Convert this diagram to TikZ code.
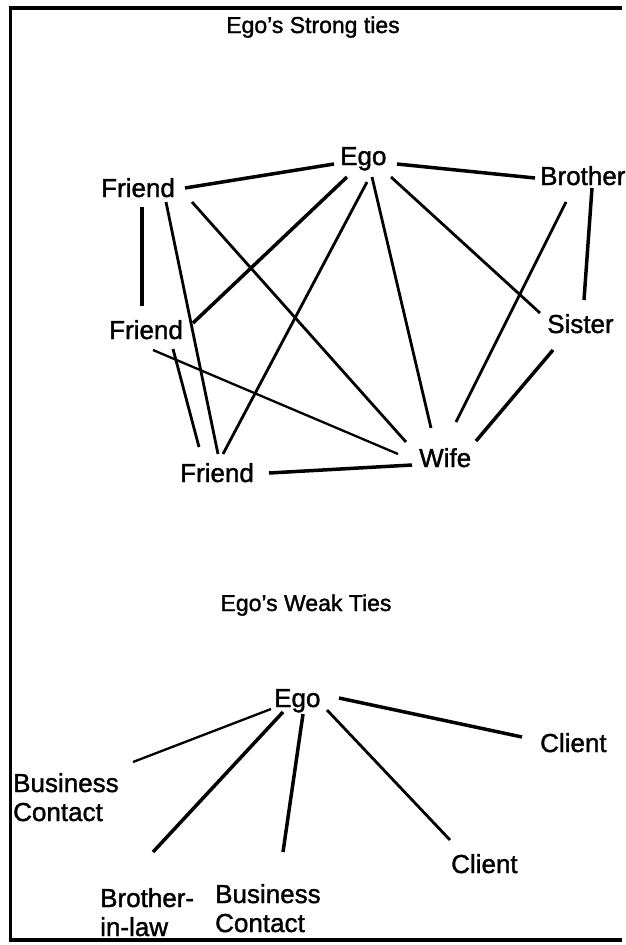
\documentclass[tikz,border=0pt]{standalone}
\usepackage{fontspec}
\setmainfont{Liberation Sans}
\newfontfamily\tiefont{Liberation Sans}[FakeBold=1.4]
\usetikzlibrary{calc}
\begin{document}
\begin{tikzpicture}[x=1pt,y=-1pt,
  who/.style={font=\tiefont\fontsize{26}{29}\selectfont, inner sep=0pt, anchor=base west},
  heading/.style={font=\tiefont\fontsize{23}{27}\selectfont, inner sep=0pt, anchor=base},
  tie/.style={line width=2.8pt},
  tiethick/.style={line width=3.5pt},
  tiethin/.style={line width=2.3pt},
  frame/.style={line width=3.5pt}]
\useasboundingbox (0,0) rectangle (625,945);
\fill[white] (0,0) rectangle (625,945);

% open frame: left, top and bottom sides, running out at the right edge
\draw[frame] (622,8) -- (10.5,8) -- (10.5,940) -- (622,940);

% ---------------- strong ties ----------------
\node[heading] (strongtitle) at (313,33) {Ego’s Strong ties};

\node[who] (ego) at (340,165) {Ego};
\node[who] (f1)  at (101,197) {Friend};
\node[who] (br)  at (540,185) {Brother};
\node[who] (f2)  at (109,339) {Friend};
\node[who] (si)  at (547,333) {Sister};
\node[who] (f3)  at (180,482) {Friend};
\node[who] (wi)  at (419,467) {Wife};

\draw[tiethick] ($(f1.base west)+(84,-9)$) -- ($(ego.base west)+(-6,-1)$);
\draw[tiethick] ($(ego.base west)+(57,-1)$) -- ($(br.base west)+(-5,-7)$);
\draw[tiethick] ($(f1.base west)+(41,10)$) -- ($(f2.base west)+(33,-33)$);
\draw[tie] ($(f1.base west)+(65,5)$) -- ($(f3.base west)+(38,-28)$);
\draw[tie] ($(f1.base west)+(91,5)$) -- ($(wi.base west)+(-13,-25)$);
\draw[tiethick] ($(ego.base west)+(7,12)$) -- ($(f2.base west)+(84,-16)$);
\draw[tie] ($(ego.base west)+(27,17)$) -- ($(f3.base west)+(43,-28)$);
\draw[tie] ($(ego.base west)+(32,12)$) -- ($(wi.base west)+(12,-39)$);
\draw[tie] ($(ego.base west)+(51,12)$) -- ($(si.base west)+(-7,-20)$);
\draw[tiethick] ($(br.base west)+(52,3)$) -- ($(si.base west)+(37,-33)$);
\draw[tie] ($(br.base west)+(26,17)$) -- ($(wi.base west)+(37,-45)$);
\draw[tiethick] ($(si.base west)+(6,17)$) -- ($(wi.base west)+(57,-26)$);
\draw[tiethin] ($(f2.base west)+(44,11)$) -- ($(wi.base west)+(-21,-13)$);
\draw[tie] ($(f2.base west)+(64,10)$) -- ($(f3.base west)+(19,-35)$);
\draw[tiethick] ($(f3.base west)+(89,-9)$) -- ($(wi.base west)+(-7,-2)$);

% ---------------- weak ties ----------------
\node[heading] (weaktitle) at (306,611) {Ego’s Weak Ties};

\node[who] (wego) at (274,707) {Ego};
\node[who] (bc1)  at (13,792)  {\begin{tabular}[t]{@{}l@{}}Business\\Contact\end{tabular}};
\node[who] (bil)  at (100,907) {\begin{tabular}[t]{@{}l@{}}Brother-\\in-law\end{tabular}};
\node[who] (bc2)  at (215,903) {\begin{tabular}[t]{@{}l@{}}Business\\Contact\end{tabular}};
\node[who] (cl1)  at (540,752) {Client};
\node[who] (cl2)  at (451,873) {Client};

\draw[tiethin]  ($(wego.base west)+(-3,2)$) -- ($(bc1.base west)+(120,-30)$);
\draw[tiethick] ($(wego.base west)+(9,5)$)  -- ($(bil.base west)+(53,-55)$);
\draw[tiethick] ($(wego.base west)+(29,7)$) -- ($(bc2.base west)+(68,-51)$);
\draw[tie]      ($(wego.base west)+(53,3)$) -- ($(cl2.base west)+(-1,-33)$);
\draw[tiethick] ($(wego.base west)+(65,-9)$) -- ($(cl1.base west)+(-18,-15)$);
\end{tikzpicture}
\end{document}
